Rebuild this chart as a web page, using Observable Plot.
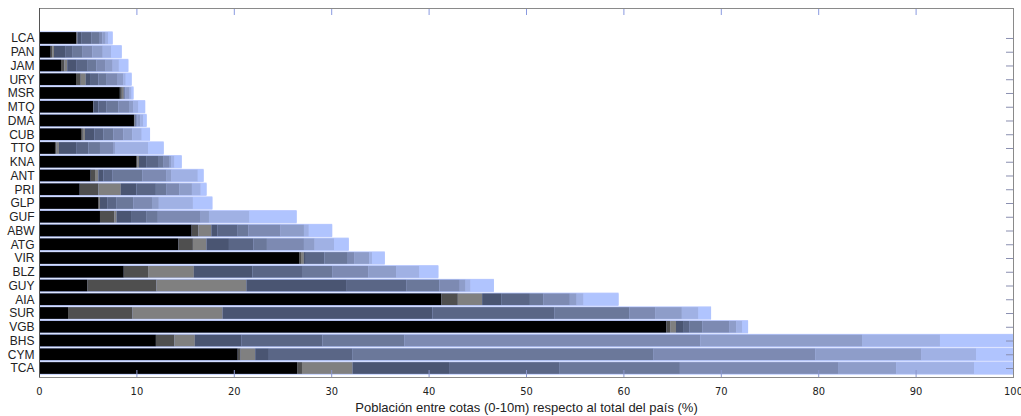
<!DOCTYPE html>
<html>
<head>
<meta charset="utf-8">
<script src="https://cdn.jsdelivr.net/npm/d3@7"></script>
<script src="https://cdn.jsdelivr.net/npm/@observablehq/plot@0.6"></script>
<style>
  html, body { margin: 0; padding: 0; background: #fff; }
  #chart svg { display: block; }
</style>
</head>
<body>
<div id="chart"></div>
<script>
// Countries, top to bottom
const countries = ["LCA","PAN","JAM","URY","MSR","MTQ","DMA","CUB","TTO","KNA","ANT","PRI","GLP","GUF","ABW","ATG","VIR","BLZ","GUY","AIA","SUR","VGB","BHS","CYM","TCA"];

// Cumulative share of population (%) up to each elevation band (1m ... 10m)
const band1  = [3.8,1.2,2.26,3.8,8.3,5.58,9.75,4.31,1.64,9.96,5.3,4.18,6.06,6.26,15.67,14.3,26.7,8.7,4.95,41.3,2.98,64.4,12.0,20.4,26.5];
const band2  = [3.88,1.35,2.6,4.28,8.5,5.6,9.8,4.5,1.8,10.1,5.75,6.1,6.15,7.73,16.36,15.8,26.9,11.2,12.06,43.0,9.6,64.8,13.9,20.7,27.0];
const band3  = [3.94,1.54,2.9,4.8,8.7,5.62,9.85,4.72,2.05,10.27,6.1,8.4,6.26,7.97,17.7,17.2,27.2,15.9,21.3,45.5,18.85,65.4,16.0,22.2,32.2];
const band4  = [4.38,2.74,3.87,5.24,8.75,6.1,9.9,5.68,3.87,11.0,6.6,10.0,7.0,9.45,18.3,19.5,27.4,21.9,31.6,47.5,40.4,66.2,20.8,23.6,42.1];
const band5  = [5.4,3.46,5.0,6.1,8.8,6.9,9.95,6.6,5.07,12.3,7.56,12.0,7.97,11.0,20.4,22.0,29.3,27.0,37.7,50.4,52.9,66.8,29.1,32.2,53.4];
const band6  = [6.16,4.48,5.9,6.95,8.85,8.15,10.0,7.63,6.26,12.8,10.6,13.1,9.7,12.2,21.5,23.4,31.7,30.1,41.1,51.8,60.6,68.1,37.5,63.1,65.8];
const band7  = [6.5,5.48,6.84,8.08,8.9,9.24,10.1,8.66,7.6,13.35,13.1,14.4,11.6,16.6,24.8,27.2,32.4,33.8,43.2,54.5,63.3,70.9,67.9,79.7,82.1];
const band8  = [6.84,6.54,7.56,8.66,9.3,9.7,10.4,9.58,7.8,13.6,13.6,15.7,12.3,17.45,27.2,28.3,33.9,36.7,43.8,55.2,66.0,71.6,84.5,90.6,88.0];
const band9  = [7.1,7.4,8.2,8.9,9.5,10.2,10.7,10.54,11.2,13.9,16.3,16.6,15.8,21.6,27.7,30.3,34.2,39.05,44.3,55.9,67.7,72.2,92.5,96.2,96.0];
const band10 = [7.56,8.49,9.17,9.51,9.7,10.9,11.05,11.4,12.8,14.65,16.9,17.2,17.8,26.45,30.1,31.8,35.5,41.0,46.7,59.5,69.0,72.8,100,100,100];

const bandNames = ["0-1m","1-2m","2-3m","3-4m","4-5m","5-6m","6-7m","7-8m","8-9m","9-10m"];
const bandColors = ["#000000","#4f4f4f","#808080","#4a5572","#5a6686","#6b789a","#7d8ab2","#8e9dc9","#a0b1e4","#b0c4fe"];
const xTicks = [0,10,20,30,40,50,60,70,80,90,100];
const xLabel = "Población entre cotas (0-10m) respecto al total del país (%)";

const bands = [band1,band2,band3,band4,band5,band6,band7,band8,band9,band10];
const rows = [];
countries.forEach((c, i) => {
  bands.forEach((b, k) => {
    rows.push({country: c, band: bandNames[k], x1: k === 0 ? 0 : bands[k-1][i], x2: b[i]});
  });
});
const totals = countries.map((c, i) => ({country: c, total: band10[i]}));

const W = 1021, H = 416, mT = 8, mB = 39, mL = 39, mR = 8;
const plotH = H - mT - mB, plotW = W - mL - mR;
const narrow = "'DejaVu Sans Condensed', 'Liberation Sans Narrow', sans-serif";

const chart = Plot.plot({
  width: W,
  height: H,
  marginTop: mT,
  marginBottom: mB,
  marginLeft: mL,
  marginRight: mR,
  style: {fontFamily: "Liberation Sans, Arial, sans-serif", fontSize: "12px", color: "#222", background: "#fff", overflow: "visible"},
  x: {domain: [0, 100]},
  y: {domain: countries, range: [31.1, 374.9], paddingInner: 0.15, paddingOuter: 0.075, round: false},
  color: {domain: bandNames, range: bandColors},
  marks: [
    Plot.barX(totals, {y: "country", x1: 0, x2: "total", fill: "#b8c8ff", insetTop: -0.8, insetBottom: -0.8}),
    Plot.barX(rows, {y: "country", x1: "x1", x2: "x2", fill: "band"}),
    Plot.ruleX(xTicks, {x: d => d, insetTop: plotH - 7, stroke: "#8a96cc", strokeWidth: 1}),
    Plot.ruleX(xTicks, {x: d => d, insetBottom: plotH - 7, stroke: "#8a9ae0", strokeWidth: 1}),
    Plot.ruleY(countries, {y: d => d, insetLeft: plotW - 7, stroke: "#8a8fb0", strokeWidth: 1}),
    Plot.frame({stroke: "#8a8a8a", strokeWidth: 1}),
    Plot.ruleX([0], {stroke: "#555"}),
    Plot.axisY({tickSize: 0, tickPadding: 5, label: null, fontSize: 12, fill: "#222"}),
    Plot.axisX({ticks: xTicks, tickSize: 0, tickPadding: 10, tickFormat: d => String(d), label: null, fontSize: 11, fontFamily: narrow, fill: "#222"}),
    Plot.axisX({ticks: [], tickSize: 0, label: xLabel, labelAnchor: "center", labelArrow: "none", labelOffset: 34, fontSize: 13, fill: "#222"})
  ]
});
document.getElementById("chart").append(chart);
</script>
</body>
</html>
